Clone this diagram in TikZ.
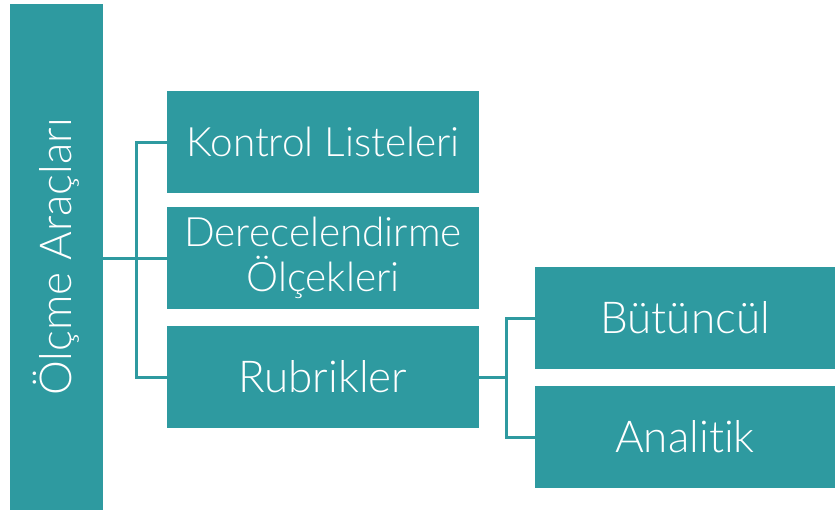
\documentclass[tikz,border=0pt]{standalone}
\usepackage{fontspec}
\setmainfont{Lato}[UprightFont=* Light,Ligatures=NoCommon]
\usetikzlibrary{positioning}
\definecolor{teal1}{RGB}{46,154,160}

\begin{document}
\begin{tikzpicture}[x=1pt,y=-1pt,
    b/.style={fill=teal1,text=white,inner sep=0pt,align=center,font=\fontsize{44}{48}\selectfont},%
    l/.style={draw=teal1,line width=3pt},%
    w/.style={b,minimum width=312pt,minimum height=102pt},%
    r/.style={b,minimum width=300pt,minimum height=102pt}]
    \useasboundingbox (0,0) rectangle (835,515);
    \node[b,minimum width=93pt,minimum height=506pt] (root) at (56.5,257) {\rotatebox{90}{Ölçme Araçları}};
    \node[w,font=\fontsize{40.5}{45}\selectfont] (kontrol) at (323,142) {Kontrol Listeleri};
    \node[w,font=\fontsize{40.5}{45}\selectfont] (derece) at (323,258) {Derecelendirme\\Ölçekleri};
    \node[w] (rubrik) at (323,377) {Rubrikler};
    \node[r] (butun) at (685,318) {Bütüncül};
    \node[r] (analitik) at (685,437) {Analitik};
    % baglantilar
    \draw[l] (root.east |- derece.west) -- (derece.west);
    \draw[l] (kontrol.west) -- ++(-30,0) |- (rubrik.west);
    \draw[l] (rubrik.east) -- ++(28,0);
    \draw[l] (butun.west) -- ++(-28,0) |- (analitik.west);
\end{tikzpicture}
\end{document}
